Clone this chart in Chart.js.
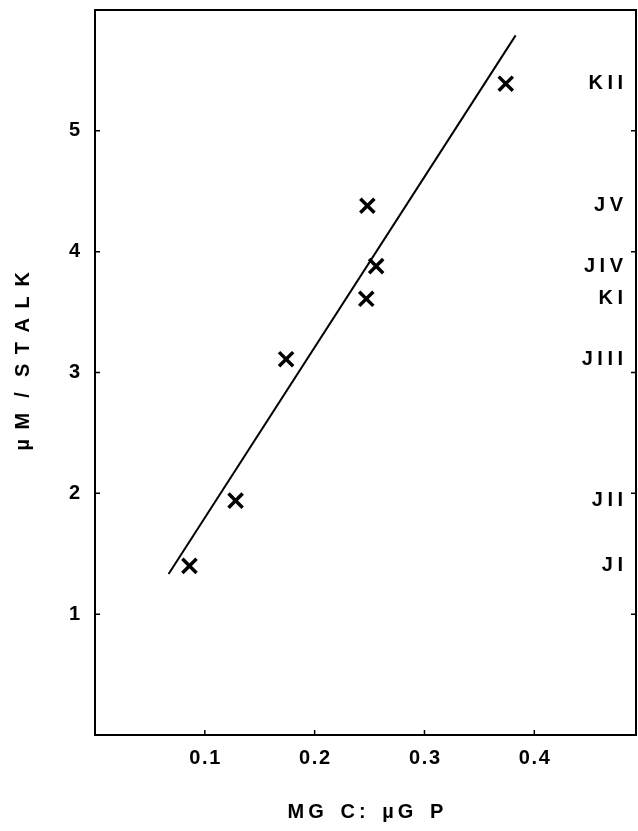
<!DOCTYPE html>
<html>
<head>
<meta charset="utf-8">
<script src="https://cdn.jsdelivr.net/npm/chart.js@4"></script>
<style>
  html, body { margin: 0; padding: 0; background: #fff; }
</style>
</head>
<body>
<canvas id="stalkChart" width="638" height="831"></canvas>
<script>
// values
const stalkLabels = ['JI', 'JII', 'JIII', 'KI', 'JIV', 'JV', 'KII'];
const ratioCP = [0.086, 0.128, 0.174, 0.247, 0.256, 0.248, 0.374];
const umPerStalk = [1.40, 1.94, 3.11, 3.61, 3.88, 4.38, 5.39];
const fitX = [0.067, 0.383];
const fitY = [1.333, 5.79];
const xTicks = [0.1, 0.2, 0.3, 0.4];
const yTicks = [1, 2, 3, 4, 5];

const fontFamily = '"Liberation Sans", Arial, sans-serif';
const labelFont = 'bold 20px ' + fontFamily;
const HAIR = '\u200A';

// right-aligned text with a gap between the letters
function spacedTextRight(ctx, text, xRight, y, gap) {
    const chars = text.split('');
    let x = xRight;
    for (let i = chars.length - 1; i >= 0; i--) {
        const w = ctx.measureText(chars[i]).width;
        x -= w;
        ctx.fillText(chars[i], x, y);
        x -= gap;
    }
}

// frame, inward ticks and the row labels on the right
const framePlugin = {
    id: 'frame',
    afterDraw(chart) {
        const ctx = chart.ctx;
        const a = chart.chartArea;
        const xs = chart.scales.x;
        const ys = chart.scales.y;
        ctx.save();
        ctx.strokeStyle = '#000';
        ctx.lineWidth = 2;
        ctx.strokeRect(a.left, a.top, a.right - a.left, a.bottom - a.top);
        ctx.lineWidth = 1.5;
        ctx.beginPath();
        xTicks.forEach(v => {
            const px = xs.getPixelForValue(v);
            ctx.moveTo(px, a.bottom);
            ctx.lineTo(px, a.bottom - 5);
        });
        yTicks.forEach(v => {
            const py = ys.getPixelForValue(v);
            ctx.moveTo(a.left, py);
            ctx.lineTo(a.left + 5, py);
            ctx.moveTo(a.right, py);
            ctx.lineTo(a.right - 5, py);
        });
        ctx.stroke();

        ctx.fillStyle = '#000';
        ctx.font = labelFont;
        ctx.textAlign = 'left';
        ctx.textBaseline = 'middle';
        stalkLabels.forEach((lab, i) => {
            spacedTextRight(ctx, lab, a.right - 13, ys.getPixelForValue(umPerStalk[i]), 4.5);
        });
        ctx.restore();
    }
};

const ctx = document.getElementById('stalkChart').getContext('2d');

const myChart = new Chart(ctx, {
    type: 'scatter',
    data: {
        datasets: [{
            label: 'stalks',
            data: ratioCP.map((x, i) => ({ x: x, y: umPerStalk[i] })),
            pointStyle: 'crossRot',
            pointRadius: 10,
            pointBorderWidth: 3.5,
            borderColor: '#000',
            backgroundColor: '#000',
        }, {
            type: 'line',
            label: 'fit',
            data: fitX.map((x, i) => ({ x: x, y: fitY[i] })),
            showLine: true,
            borderColor: '#000',
            borderWidth: 2,
            pointRadius: 0,
            fill: false,
        }]
    },
    options: {
        responsive: false,
        animation: false,
        devicePixelRatio: 1,
        layout: { autoPadding: false, padding: { left: 0, right: 2, top: 10, bottom: 0 } },
        plugins: {
            legend: { display: false },
            tooltip: { enabled: false }
        },
        scales: {
            x: {
                type: 'linear',
                position: 'bottom',
                min: 0,
                max: 0.4926,
                grid: { display: false, drawTicks: false },
                border: { display: false },
                afterBuildTicks: scale => { scale.ticks = xTicks.map(v => ({ value: v })); },
                afterFit: scale => {
                    scale.height = 96;
                    scale.paddingLeft = 0;
                    scale.paddingRight = 0;
                },
                ticks: {
                    color: '#000',
                    padding: 11,
                    font: { family: fontFamily, size: 20, weight: 'bold' },
                    callback: v => v.toFixed(1).split('').join(HAIR)
                },
                title: {
                    display: true,
                    text: 'M\u2009G   C\u2009:   \u00b5\u2009G   P',
                    color: '#000',
                    padding: { top: 0, bottom: 7 },
                    font: { family: fontFamily, size: 20, weight: 'bold' }
                }
            },
            y: {
                type: 'linear',
                position: 'left',
                min: 0,
                max: 6.0,
                grid: { display: false, drawTicks: false },
                border: { display: false },
                afterBuildTicks: scale => { scale.ticks = yTicks.map(v => ({ value: v })); },
                afterFit: scale => {
                    scale.width = 95;
                    scale.paddingTop = 0;
                    scale.paddingBottom = 0;
                },
                ticks: {
                    color: '#000',
                    padding: 15,
                    font: { family: fontFamily, size: 20, weight: 'bold' },
                    callback: v => String(v)
                },
                title: {
                    display: true,
                    text: '    \u00b5\u2009 M \u2009 / \u2009 S\u2009 T\u2009 A\u2009 L\u2009 K',
                    color: '#000',
                    padding: { top: 11, bottom: 0 },
                    font: { family: fontFamily, size: 20, weight: 'bold' }
                }
            }
        }
    },
    plugins: [framePlugin]
});
</script>
</body>
</html>
